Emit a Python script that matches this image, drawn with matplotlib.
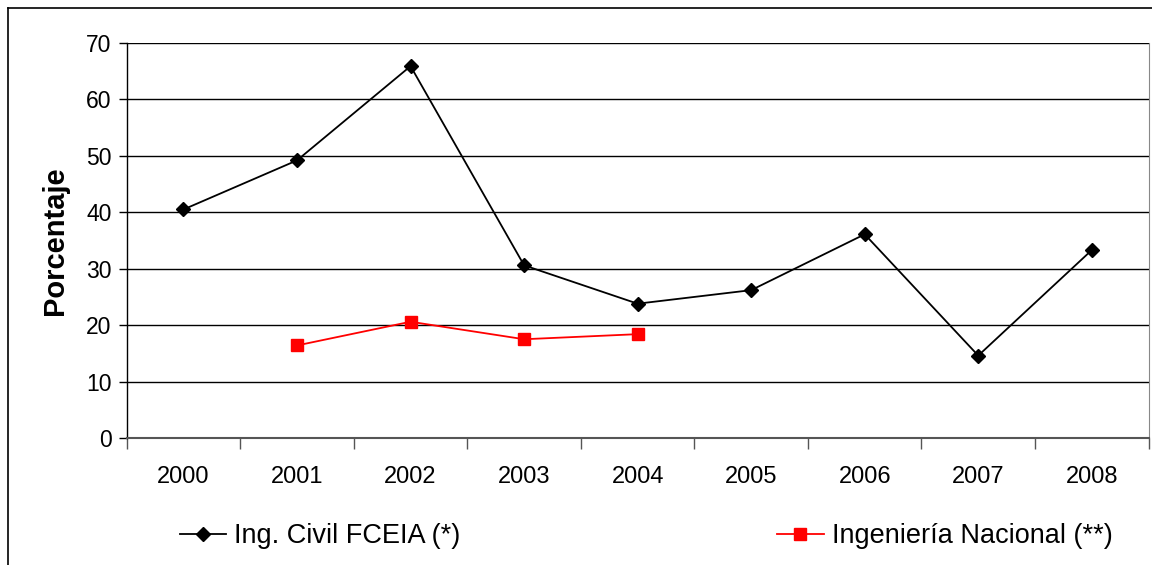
import numpy as np
import matplotlib.pyplot as plt
from matplotlib.lines import Line2D

years = ["2000", "2001", "2002", "2003", "2004", "2005", "2006", "2007", "2008"]
civil_fceia = [40.5, 49.2, 65.9, 30.6, 23.8, 26.2, 36.1, 14.6, 33.3]
ing_nacional = [np.nan, 16.4, 20.6, 17.5, 18.4, np.nan, np.nan, np.nan, np.nan]

plt.rcParams['font.family'] = ['Liberation Sans', 'DejaVu Sans']

fig = plt.figure(figsize=(11.52, 5.65), dpi=100)
ax = fig.add_axes([0.110, 0.2248, 0.887, 0.6991])

x = np.arange(len(years))
ax.plot(x, civil_fceia, color="black", lw=1.3, marker="D", ms=7.5,
        label="Ing. Civil FCEIA (*)")
ax.plot(x, ing_nacional, color="#ff0000", lw=1.3, marker="s", ms=8,
        label="Ingeniería Nacional (**)")

ax.set_xlim(-0.5, len(years) - 0.5)
ax.set_ylim(0, 70)
ax.set_yticks(range(0, 71, 10))
ax.set_xticks(x)
ax.set_xticklabels(years)
ax.set_xticks(np.arange(-0.5, len(years), 1), minor=True)
ax.tick_params(axis="x", which="major", length=0, pad=20, labelsize=17)
ax.tick_params(axis="x", which="minor", length=8, width=1, direction="out", color="#555555")
ax.tick_params(axis="y", length=6, width=1, direction="out", labelsize=16.5, pad=5)
ax.yaxis.grid(True, color="black", lw=1)
ax.set_axisbelow(True)
ax.spines["top"].set_visible(False)
ax.spines["right"].set_color("#888888")
ax.spines["left"].set_linewidth(1)
ax.spines["bottom"].set_linewidth(1.5)
ax.spines["bottom"].set_color("#555555")
ax.set_ylabel("Porcentaje", fontsize=21, fontweight="bold", labelpad=12)

fig.legend(loc="center", bbox_to_anchor=(0.561, 0.051), ncol=2, frameon=False,
           fontsize=19.5, columnspacing=11.7, handlelength=1.7, handletextpad=0.3)

fig.lines.append(Line2D([0.0069, 0.0069], [0.0, 0.9858], transform=fig.transFigure,
                        color="black", lw=1.2))
fig.lines.append(Line2D([0.0069, 1.0], [0.9858, 0.9858], transform=fig.transFigure,
                        color="black", lw=1.2))

fig.savefig("out.png", dpi=100)
